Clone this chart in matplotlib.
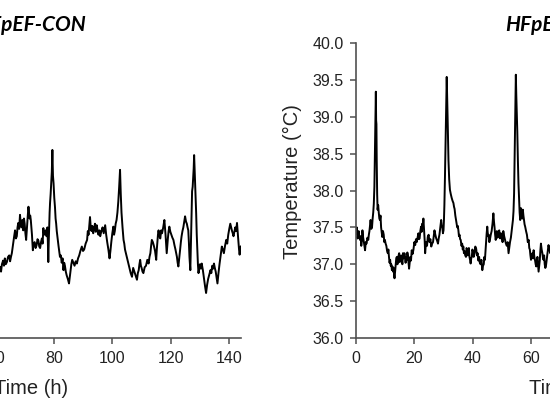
import matplotlib
matplotlib.use("Agg")
import matplotlib.pyplot as plt
from matplotlib.ticker import FormatStrFormatter, MultipleLocator

plt.rcParams['font.family'] = ['Liberation Sans', 'DejaVu Sans']

con_readings = [
    (61.5, 36.96), (61.8, 36.90), (62.1, 37.00), (62.5, 37.05), (62.8, 36.98), (63.1, 37.08),
    (63.4, 37.00), (63.8, 37.03), (64.2, 37.10), (64.6, 37.12), (64.9, 37.04), (65.2, 37.10),
    (65.5, 37.15), (65.8, 37.24), (66.0, 37.30), (66.3, 37.38), (66.6, 37.46), (66.9, 37.35),
    (67.2, 37.38), (67.45, 37.50), (67.7, 37.56), (68.0, 37.48), (68.3, 37.67), (68.55, 37.55),
    (68.8, 37.50), (69.1, 37.60), (69.4, 37.46), (69.65, 37.62), (69.9, 37.55), (70.15, 37.42),
    (70.4, 37.33), (70.6, 37.45), (70.8, 37.55), (71.0, 37.68), (71.2, 37.78), (71.4, 37.70),
    (71.6, 37.62), (71.8, 37.66), (72.0, 37.60), (72.2, 37.50), (72.4, 37.40), (72.55, 37.28),
    (72.7, 37.19), (73.0, 37.28), (73.3, 37.30), (73.65, 37.22), (74.0, 37.26), (74.3, 37.34),
    (74.6, 37.32), (74.9, 37.24), (75.2, 37.22), (75.5, 37.30), (75.8, 37.35), (76.05, 37.28),
    (76.3, 37.49), (76.55, 37.40), (76.8, 37.42), (77.1, 37.46), (77.4, 37.38), (77.55, 37.45),
    (77.7, 37.50), (77.85, 37.30), (78.0, 37.03), (78.15, 37.30), (78.3, 37.50), (78.45, 37.70),
    (78.6, 37.83), (78.8, 37.95), (79.0, 38.10), (79.2, 38.25), (79.4, 38.55), (79.6, 38.20),
    (79.8, 38.10), (80.05, 37.90), (80.3, 37.77), (80.5, 37.62), (80.7, 37.55), (80.9, 37.45),
    (81.1, 37.38), (81.3, 37.30), (81.5, 37.25), (81.75, 37.18), (82.0, 37.10), (82.3, 37.12),
    (82.6, 37.02), (82.9, 37.08), (83.2, 36.92), (83.45, 37.02), (83.7, 36.98), (84.0, 36.90),
    (84.3, 36.85), (84.7, 36.80), (85.1, 36.74), (85.35, 36.82), (85.6, 36.90), (85.9, 37.00),
    (86.2, 37.06), (86.6, 37.02), (87.0, 36.98), (87.4, 37.04), (87.8, 37.01), (88.2, 37.08),
    (88.6, 37.12), (89.0, 37.18), (89.5, 37.24), (89.9, 37.18), (90.3, 37.20), (90.8, 37.28),
    (91.3, 37.33), (91.55, 37.45), (91.8, 37.40), (92.05, 37.52), (92.3, 37.64), (92.55, 37.50),
    (92.8, 37.45), (93.1, 37.52), (93.4, 37.42), (93.7, 37.48), (94.0, 37.55), (94.3, 37.44),
    (94.6, 37.53), (94.9, 37.46), (95.2, 37.40), (95.5, 37.46), (95.8, 37.38), (96.2, 37.45),
    (96.6, 37.50), (97.0, 37.42), (97.5, 37.53), (97.85, 37.40), (98.2, 37.30), (98.6, 37.20),
    (99.0, 37.08), (99.3, 37.18), (99.6, 37.30), (99.95, 37.42), (100.3, 37.51), (100.55, 37.40),
    (100.8, 37.45), (101.1, 37.55), (101.4, 37.60), (101.7, 37.70), (102.0, 37.85), (102.3, 38.05),
    (102.6, 38.28), (102.85, 37.95), (103.1, 37.70), (103.45, 37.50), (103.8, 37.33), (104.05, 37.28),
    (104.3, 37.20), (104.6, 37.15), (104.9, 37.10), (105.35, 37.02), (105.8, 36.95), (106.25, 36.88),
    (106.7, 36.83), (107.1, 36.95), (107.5, 36.90), (107.95, 36.84), (108.4, 36.79), (108.7, 36.88),
    (109.0, 36.92), (109.25, 37.00), (109.5, 37.06), (109.75, 36.98), (110.0, 36.95), (110.3, 36.90),
    (110.6, 36.88), (111.05, 36.96), (111.5, 36.98), (111.95, 37.06), (112.4, 37.01), (112.7, 37.10),
    (113.0, 37.15), (113.25, 37.25), (113.5, 37.33), (113.85, 37.30), (114.2, 37.25), (114.6, 37.18),
    (115.0, 37.06), (115.2, 37.20), (115.4, 37.30), (115.6, 37.40), (115.8, 37.46), (116.1, 37.38),
    (116.4, 37.35), (116.7, 37.46), (117.0, 37.42), (117.4, 37.50), (117.8, 37.60), (118.0, 37.50),
    (118.2, 37.40), (118.4, 37.28), (118.6, 37.15), (118.8, 37.25), (119.0, 37.35), (119.25, 37.45),
    (119.5, 37.51), (119.85, 37.44), (120.2, 37.40), (120.55, 37.36), (120.9, 37.33), (121.25, 37.26),
    (121.6, 37.20), (121.85, 37.15), (122.1, 37.10), (122.35, 37.02), (122.6, 36.97), (122.9, 37.08),
    (123.2, 37.20), (123.45, 37.30), (123.7, 37.38), (124.0, 37.45), (124.3, 37.50), (124.6, 37.58),
    (124.9, 37.65), (125.2, 37.58), (125.5, 37.55), (125.75, 37.50), (126.0, 37.46), (126.2, 37.30),
    (126.4, 37.10), (126.55, 37.00), (126.7, 36.92), (126.85, 37.20), (127.0, 37.50), (127.15, 37.80),
    (127.3, 37.99), (127.5, 38.05), (127.7, 38.20), (127.85, 38.30), (128.0, 38.48), (128.2, 38.25),
    (128.4, 38.00), (128.55, 37.85), (128.7, 37.69), (128.9, 37.40), (129.1, 37.20), (129.3, 37.00),
    (129.5, 36.88), (129.75, 36.95), (130.0, 37.00), (130.3, 36.94), (130.6, 37.01), (131.0, 36.92),
    (131.4, 36.80), (131.75, 36.70), (132.1, 36.61), (132.45, 36.72), (132.8, 36.80), (133.2, 36.86),
    (133.6, 36.92), (133.9, 36.88), (134.2, 36.98), (134.5, 36.94), (134.8, 37.01), (135.1, 36.95),
    (135.4, 36.90), (135.7, 36.82), (136.0, 36.74), (136.35, 36.88), (136.7, 37.00), (137.1, 37.12),
    (137.5, 37.24), (137.85, 37.20), (138.2, 37.15), (138.6, 37.25), (139.0, 37.33), (139.35, 37.28),
    (139.7, 37.40), (140.05, 37.48), (140.4, 37.55), (140.7, 37.50), (141.0, 37.45), (141.25, 37.42),
    (141.5, 37.38), (141.8, 37.44), (142.1, 37.50), (142.4, 37.45), (142.7, 37.56), (142.95, 37.42),
    (143.2, 37.30), (143.4, 37.20), (143.6, 37.13), (143.8, 37.20), (144.0, 37.24),
]

hf_readings = [
    (0.0, 37.42), (0.25, 37.50), (0.5, 37.35), (0.7, 37.40), (0.9, 37.45), (1.15, 37.36),
    (1.4, 37.33), (1.6, 37.38), (1.8, 37.25), (2.0, 37.32), (2.2, 37.46), (2.45, 37.36),
    (2.7, 37.30), (2.9, 37.24), (3.1, 37.19), (3.35, 37.30), (3.6, 37.28), (3.9, 37.36),
    (4.2, 37.33), (4.4, 37.40), (4.6, 37.45), (4.8, 37.52), (5.0, 37.60), (5.25, 37.48),
    (5.5, 37.51), (5.7, 37.62), (5.9, 37.70), (6.1, 37.82), (6.3, 38.05), (6.6, 38.80),
    (6.8, 39.34), (6.9, 38.95), (7.0, 38.90), (7.1, 38.41), (7.25, 37.95), (7.4, 37.74),
    (7.6, 37.80), (7.8, 37.70), (8.0, 37.62), (8.2, 37.60), (8.4, 37.66), (8.6, 37.50),
    (8.8, 37.44), (9.0, 37.37), (9.25, 37.45), (9.5, 37.40), (9.7, 37.30), (9.9, 37.33),
    (10.15, 37.28), (10.4, 37.25), (10.65, 37.18), (10.9, 37.15), (11.1, 37.20), (11.3, 37.10),
    (11.5, 37.02), (11.7, 37.06), (11.9, 36.98), (12.1, 37.00), (12.3, 36.92), (12.5, 36.97),
    (12.7, 36.90), (12.9, 36.95), (13.05, 36.86), (13.2, 36.81), (13.4, 36.90), (13.6, 36.98),
    (13.8, 37.08), (14.0, 37.10), (14.2, 37.00), (14.4, 37.05), (14.6, 37.12), (14.8, 37.15),
    (15.0, 37.03), (15.2, 37.08), (15.45, 37.12), (15.7, 37.06), (15.9, 37.00), (16.1, 37.15),
    (16.35, 37.08), (16.6, 37.15), (16.8, 37.10), (17.0, 37.02), (17.2, 37.10), (17.4, 37.06),
    (17.6, 37.16), (17.8, 37.12), (18.0, 37.02), (18.2, 36.94), (18.4, 37.02), (18.6, 37.10),
    (18.85, 37.05), (19.1, 37.19), (19.4, 37.14), (19.7, 37.20), (20.0, 37.30), (20.3, 37.26),
    (20.55, 37.34), (20.8, 37.30), (21.1, 37.36), (21.4, 37.42), (21.6, 37.34), (21.8, 37.35),
    (22.05, 37.45), (22.3, 37.51), (22.5, 37.44), (22.7, 37.55), (22.9, 37.50), (23.1, 37.62),
    (23.25, 37.52), (23.4, 37.40), (23.55, 37.32), (23.7, 37.15), (23.9, 37.25), (24.1, 37.30),
    (24.35, 37.25), (24.6, 37.37), (24.9, 37.40), (25.2, 37.30), (25.5, 37.34), (25.8, 37.24),
    (26.1, 37.28), (26.4, 37.30), (26.65, 37.38), (26.9, 37.46), (27.2, 37.40), (27.5, 37.35),
    (27.8, 37.32), (28.1, 37.28), (28.35, 37.35), (28.6, 37.40), (28.9, 37.50), (29.2, 37.60),
    (29.4, 37.52), (29.6, 37.50), (29.8, 37.42), (30.0, 37.46), (30.15, 37.60), (30.3, 37.80),
    (30.5, 38.19), (30.8, 38.90), (31.1, 39.54), (31.25, 39.30), (31.4, 39.00), (31.7, 38.41),
    (31.95, 38.15), (32.2, 38.01), (32.5, 37.95), (32.8, 37.90), (33.1, 37.86), (33.4, 37.83),
    (33.6, 37.78), (33.8, 37.75), (34.05, 37.66), (34.3, 37.60), (34.5, 37.55), (34.7, 37.50),
    (34.9, 37.52), (35.1, 37.46), (35.3, 37.38), (35.5, 37.40), (35.7, 37.34), (35.9, 37.33),
    (36.15, 37.25), (36.4, 37.28), (36.6, 37.20), (36.8, 37.24), (37.0, 37.15), (37.2, 37.18),
    (37.45, 37.12), (37.7, 37.10), (37.9, 37.22), (38.1, 37.20), (38.3, 37.12), (38.5, 37.17),
    (38.7, 37.22), (38.9, 37.10), (39.1, 37.06), (39.3, 37.01), (39.5, 37.08), (39.7, 37.10),
    (39.9, 37.20), (40.1, 37.17), (40.35, 37.10), (40.6, 37.15), (40.9, 37.24), (41.2, 37.21),
    (41.45, 37.12), (41.7, 37.15), (41.95, 37.05), (42.2, 37.10), (42.45, 37.02), (42.7, 37.00),
    (43.0, 37.06), (43.3, 36.92), (43.55, 36.98), (43.8, 37.00), (44.0, 37.10), (44.2, 37.06),
    (44.4, 37.18), (44.6, 37.30), (44.8, 37.42), (45.0, 37.51), (45.25, 37.38), (45.5, 37.40),
    (45.7, 37.30), (45.9, 37.33), (46.2, 37.40), (46.5, 37.45), (46.8, 37.55), (47.1, 37.69),
    (47.3, 37.58), (47.5, 37.50), (47.7, 37.40), (47.9, 37.33), (48.1, 37.40), (48.3, 37.45),
    (48.55, 37.36), (48.8, 37.42), (49.1, 37.46), (49.4, 37.35), (49.7, 37.42), (50.0, 37.37),
    (50.25, 37.30), (50.5, 37.45), (50.8, 37.38), (51.1, 37.33), (51.4, 37.28), (51.7, 37.25),
    (52.0, 37.30), (52.3, 37.15), (52.55, 37.22), (52.8, 37.30), (53.1, 37.36), (53.4, 37.46),
    (53.6, 37.52), (53.8, 37.60), (54.0, 37.72), (54.2, 37.96), (54.5, 38.80), (54.8, 39.57),
    (54.95, 39.30), (55.1, 39.10), (55.3, 38.80), (55.5, 38.41), (55.7, 38.10), (55.9, 37.90),
    (56.1, 37.70), (56.3, 37.60), (56.55, 37.76), (56.8, 37.70), (57.0, 37.62), (57.2, 37.74),
    (57.4, 37.66), (57.6, 37.60), (57.8, 37.54), (58.0, 37.51), (58.3, 37.45), (58.6, 37.40),
    (58.9, 37.30), (59.2, 37.33), (59.4, 37.22), (59.6, 37.20), (59.8, 37.12), (60.0, 37.06),
    (60.25, 37.12), (60.5, 37.15), (60.7, 37.08), (60.9, 37.19), (61.15, 37.10), (61.4, 37.05),
    (61.6, 37.00), (61.8, 36.97), (62.0, 37.05), (62.2, 37.10), (62.4, 37.00), (62.6, 36.90),
    (62.8, 36.98), (63.0, 37.05), (63.2, 37.18), (63.4, 37.28), (63.65, 37.20), (63.9, 37.15),
    (64.1, 37.08), (64.3, 37.06), (64.5, 37.12), (64.7, 37.00), (64.9, 36.95), (65.1, 36.97),
    (65.3, 37.04), (65.5, 37.10), (65.75, 37.18), (66.0, 37.26), (66.3, 37.20), (66.6, 37.15),
    (66.9, 37.24), (67.2, 37.20), (67.5, 37.14), (67.8, 37.10), (68.1, 37.16), (68.5, 37.18),
]

titles = ['HFpEF-CON', 'HFpEF-LPS']
x_ticks = [0, 20, 40, 60, 80, 100, 120, 140]

fig = plt.figure(figsize=(5.5, 4.12), dpi=100)
# the crop cuts through both panels, so the axes run past the figure edges
ax1 = fig.add_axes([-0.3258, 0.1796, 0.7636, 0.716])
ax2 = fig.add_axes([0.6473, 0.1796, 0.7636, 0.716])

for ax, readings, title in [(ax1, con_readings, titles[0]), (ax2, hf_readings, titles[1])]:
    t = [r[0] for r in readings]
    y = [r[1] for r in readings]
    ax.plot(t, y, color='black', linewidth=1.4)
    ax.set_xlim(0, 144)
    ax.set_ylim(36, 40)
    ax.set_xticks(x_ticks)
    ax.yaxis.set_major_locator(MultipleLocator(0.5))
    ax.yaxis.set_major_formatter(FormatStrFormatter('%.1f'))
    ax.spines['top'].set_visible(False)
    ax.spines['right'].set_visible(False)
    for s in ['left', 'bottom']:
        ax.spines[s].set_color('#505050')
        ax.spines[s].set_linewidth(1.2)
    ax.tick_params(direction='out', length=4, width=1.1, color='#505050',
                   labelsize=11.5, labelcolor='#222222', pad=5)
    ax.set_xlabel('Time (h)', fontsize=14.5, color='#222222', labelpad=10)
    ax.set_ylabel('Temperature (°C)', fontsize=14.5, color='#222222')
    ax.yaxis.set_label_coords(-0.128, 0.532)
    ax.set_title(title, fontsize=15, fontweight='bold', fontstyle='italic',
                 family=['Lato', 'DejaVu Sans'], pad=9)

ax2.title.set_x(0.475)

fig.savefig('out.png', dpi=100)
